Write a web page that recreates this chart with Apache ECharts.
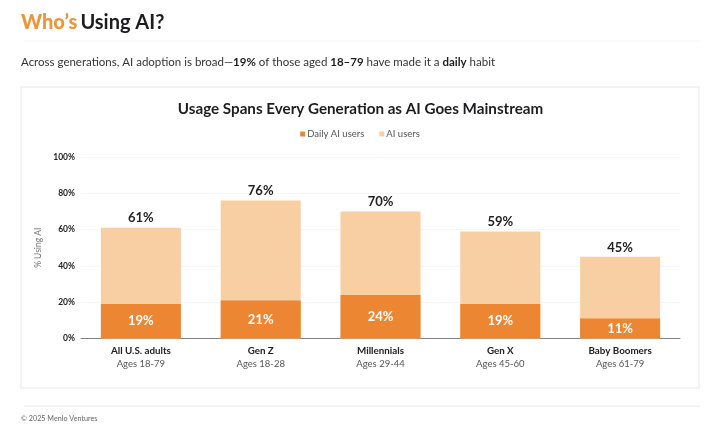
<!DOCTYPE html>
<html><head><meta charset="utf-8">
<style>html,body{margin:0;padding:0;background:#fff}#c{width:720px;height:433px}</style>
<script src="https://cdn.jsdelivr.net/npm/echarts@6/dist/echarts.min.js"></script>
</head><body><div id="c"></div>
<script>
const categories = ['All U.S. adults','Gen Z','Millennials','Gen X','Baby Boomers'];
const ages = ['Ages 18-79','Ages 18-28','Ages 29-44','Ages 45-60','Ages 61-79'];
const dailyUsers = [19,21,24,19,11];
const aiUsers = [61,76,70,59,45];
const FONT = 'Lato';
const chart = echarts.init(document.getElementById('c'), null, {renderer:'canvas'});
chart.setOption({
  animation:false,
  backgroundColor:'#fff',
  textStyle:{fontFamily:FONT},
  graphic:[
    {type:'rect',z:-10,shape:{x:21,y:87,width:678,height:301},style:{fill:'#fff',stroke:'#f1f0ee',lineWidth:1.5}},
    {type:'line',z:-10,shape:{x1:24,y1:406,x2:700,y2:406},style:{stroke:'#f1f0ee',lineWidth:1.5}},
    {type:'line',z:-10,shape:{x1:24,y1:41,x2:700,y2:41},style:{stroke:'#f8f8f6',lineWidth:1}},
    {type:'text',left:21,top:13,style:{text:'{o|Who\u2019s} {k|Using AI?}',fontFamily:FONT,rich:{
      o:{fill:'#e9963f',fontSize:20,fontWeight:900,fontFamily:FONT},
      k:{fill:'#1d1d1f',fontSize:20,fontWeight:700,fontFamily:FONT}}}},
    {type:'text',left:21,top:56,style:{text:'{n|Across generations, AI adoption is broad\u2014}{b|19%}{n| of those aged }{b|18\u201379}{n| have made it a }{b|daily}{n| habit}',rich:{
      n:{fill:'#333',fontSize:11.5,fontFamily:FONT},
      b:{fill:'#1d1d1f',fontSize:11.5,fontWeight:700,fontFamily:FONT}}}},
    {type:'text',left:21,top:415,style:{text:'\u00a9 2025 Menlo Ventures',fill:'#666',fontSize:7.2,fontFamily:FONT}}
  ],
  title:{text:'Usage Spans Every Generation as AI Goes Mainstream',left:355.5,top:97,textAlign:'center',
    textStyle:{fontSize:15.2,fontWeight:700,color:'#1d1d1f',fontFamily:FONT}},
  legend:{data:['Daily AI users','AI users'],top:124,left:'center',itemWidth:5,itemHeight:5,itemGap:15,
    textStyle:{fontSize:9.5,color:'#555',fontFamily:FONT,padding:[0,0,0,-3]},icon:'rect'},
  grid:{left:81,right:40,top:157,bottom:94.5},
  xAxis:{type:'category',data:categories.map((c,i)=>`{a|${c}}\n{b|${ages[i]}}`),
    axisLine:{lineStyle:{color:'#808080',width:1}},axisTick:{show:false},
    axisLabel:{margin:5,interval:0,rich:{
      a:{fontSize:9.8,fontWeight:700,color:'#222',fontFamily:FONT,lineHeight:14},
      b:{fontSize:9.5,color:'#555',fontFamily:FONT,lineHeight:13}}}},
  yAxis:{type:'value',min:0,max:100,interval:20,name:'% Using AI',nameLocation:'middle',nameGap:38,
    nameTextStyle:{fontSize:8.5,color:'#777',fontFamily:FONT},
    axisLine:{show:false},axisTick:{show:false},
    axisLabel:{formatter:'{value}%',fontSize:8.5,fontWeight:700,color:'#222',margin:6,fontFamily:FONT},
    splitLine:{lineStyle:{color:'#f6f6f6',width:1}}},
  series:[
    {name:'Daily AI users',type:'bar',data:dailyUsers,barWidth:80,barGap:'-100%',z:3,
      itemStyle:{color:'#ec8633'},
      label:{show:true,position:'inside',formatter:'{c}%',color:'#fff',fontSize:13,fontWeight:700,fontFamily:FONT}},
    {name:'AI users',type:'bar',data:aiUsers,barWidth:80,barGap:'-100%',z:2,
      itemStyle:{color:'#f8cfa2'},
      label:{show:true,position:'top',distance:3,formatter:'{c}%',color:'#222',fontSize:13,fontWeight:700,fontFamily:FONT}}
  ]
});
</script></body></html>
